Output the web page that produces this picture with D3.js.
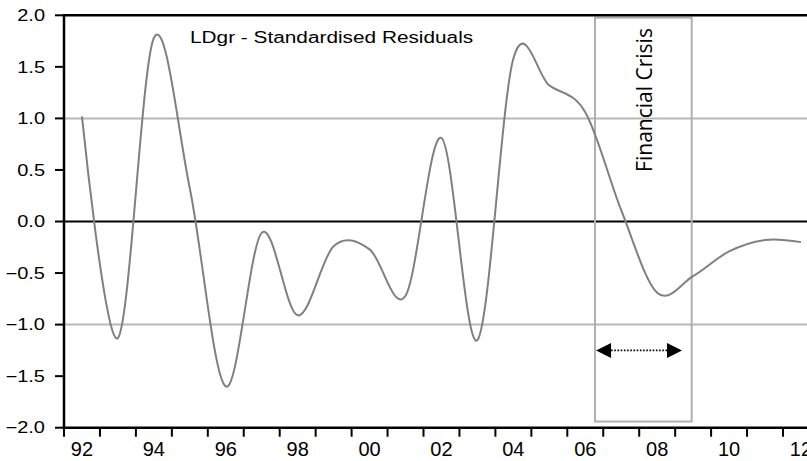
<!DOCTYPE html>
<html>
<head>
<meta charset="utf-8">
<script src="https://cdn.jsdelivr.net/npm/d3@7"></script>
<style>
  html, body { margin: 0; padding: 0; background: #fff; }
  svg { display: block; }
</style>
</head>
<body>
<svg id="chart" width="807" height="461"></svg>
<script>
// Annual standardised residuals, plotted at mid-year
const years = [1992, 1993, 1994, 1995, 1996, 1997, 1998, 1999, 2000, 2001, 2002,
               2003, 2004, 2005, 2006, 2007, 2008, 2009, 2010, 2011, 2012];
const residuals = [1.02, -1.13, 1.78, 0.32, -1.60, -0.11, -0.91, -0.24, -0.27, -0.72, 0.81,
                   -1.15, 1.58, 1.32, 1.06, 0.11, -0.69, -0.53, -0.29, -0.18, -0.20];
const yTicks = [-2.0, -1.5, -1.0, -0.5, 0.0, 0.5, 1.0, 1.5, 2.0];
const xLabelYears = [1992, 1994, 1996, 1998, 2000, 2002, 2004, 2006, 2008, 2010, 2012];
const bandLines = [-1, 1];
const crisisPeriod = [2006.77, 2009.46];
const crisisBox = [1.977, -1.94];
const crisisArrow = { from: 2006.8, to: 2009.19, level: -1.25 };
const title = "LDgr - Standardised Residuals";
const crisisLabel = "Financial Crisis";

const svg = d3.select("#chart");
const x = d3.scaleLinear().domain([1992, 2013]).range([64, 64 + 21 * 35.95]);
const y = d3.scaleLinear().domain([-2, 2]).range([427.7, 15.3]);
const x0 = x(1992), x1 = 807;

// ±1 reference lines
svg.selectAll("line.band").data(bandLines).join("line")
  .attr("class", "band")
  .attr("x1", x0).attr("x2", x1)
  .attr("y1", d => y(d)).attr("y2", d => y(d))
  .attr("stroke", "#b8b8b8").attr("stroke-width", 2);

// zero line
svg.append("line")
  .attr("x1", x0).attr("x2", x1).attr("y1", y(0)).attr("y2", y(0))
  .attr("stroke", "#000").attr("stroke-width", 2);

// crisis window
svg.append("rect")
  .attr("x", x(crisisPeriod[0])).attr("y", y(crisisBox[0]))
  .attr("width", x(crisisPeriod[1]) - x(crisisPeriod[0]))
  .attr("height", y(crisisBox[1]) - y(crisisBox[0]))
  .attr("fill", "none").attr("stroke", "#b0b0b0").attr("stroke-width", 2);

// residual curve
const line = d3.line()
  .x((d, i) => x(years[i] + 0.5))
  .y(d => y(d))
  .curve(d3.curveCatmullRom.alpha(0));
svg.append("path")
  .datum(residuals)
  .attr("d", line)
  .attr("fill", "none").attr("stroke", "#808080").attr("stroke-width", 2);

// double-headed dotted arrow
const ay = y(crisisArrow.level), ax1 = x(crisisArrow.from), ax2 = x(crisisArrow.to);
const head = 15, half = 7.5;
svg.append("line")
  .attr("x1", ax1 + head).attr("x2", ax2 - head).attr("y1", ay).attr("y2", ay)
  .attr("stroke", "#000").attr("stroke-width", 1.6).attr("stroke-dasharray", "1.6,1.6");
svg.append("path")
  .attr("d", `M${ax1},${ay}L${ax1 + head},${ay - half}L${ax1 + head},${ay + half}Z`)
  .attr("fill", "#000");
svg.append("path")
  .attr("d", `M${ax2},${ay}L${ax2 - head},${ay - half}L${ax2 - head},${ay + half}Z`)
  .attr("fill", "#000");

// axes frame
svg.append("line").attr("x1", x0).attr("x2", x0).attr("y1", y(2)).attr("y2", y(-2))
  .attr("stroke", "#000").attr("stroke-width", 2.5);
svg.append("line").attr("x1", x0 - 1.25).attr("x2", x1).attr("y1", y(2)).attr("y2", y(2))
  .attr("stroke", "#000").attr("stroke-width", 2.5);
svg.append("line").attr("x1", x0 - 1.25).attr("x2", x1).attr("y1", y(-2)).attr("y2", y(-2))
  .attr("stroke", "#000").attr("stroke-width", 2.5);

// y ticks and labels
svg.selectAll("line.ytick").data(yTicks).join("line")
  .attr("class", "ytick")
  .attr("x1", x0 - 9).attr("x2", x0).attr("y1", d => y(d)).attr("y2", d => y(d))
  .attr("stroke", "#000").attr("stroke-width", 2);
svg.selectAll("g.ylab").data(yTicks).join("g")
  .attr("class", "ylab")
  .attr("transform", d => `translate(45,${y(d) + 5.7}) scale(1,0.79)`)
  .append("text")
  .attr("text-anchor", "end")
  .attr("font-family", "Liberation Sans, Arial, sans-serif")
  .attr("font-size", 20)
  .attr("fill", "#000")
  .text(d => d3.format(".1f")(d));

// x ticks and labels
const xTickYears = d3.range(1992, 2014);
svg.selectAll("line.xtick").data(xTickYears).join("line")
  .attr("class", "xtick")
  .attr("x1", d => x(d)).attr("x2", d => x(d))
  .attr("y1", y(-2)).attr("y2", y(-2) + 9)
  .attr("stroke", "#000").attr("stroke-width", 2);
svg.selectAll("text.xlab").data(xLabelYears).join("text")
  .attr("class", "xlab")
  .attr("x", d => x(d + 0.5)).attr("y", 456)
  .attr("text-anchor", "middle")
  .attr("font-family", "Liberation Sans, Arial, sans-serif")
  .attr("font-size", 20)
  .attr("fill", "#000")
  .text(d => String(d % 100).padStart(2, "0"));

// title
svg.append("g")
  .attr("transform", "translate(190,43.3) scale(1,0.83)")
  .append("text")
  .attr("font-family", "Liberation Sans, Arial, sans-serif")
  .attr("font-size", 20.8)
  .attr("fill", "#000")
  .text(title);

// crisis label
svg.append("text")
  .attr("transform", `translate(651.7,100) rotate(-90)`)
  .attr("text-anchor", "middle")
  .attr("font-family", "Open Sans, sans-serif")
  .attr("font-size", 21)
  .attr("fill", "#000")
  .text(crisisLabel);
</script>
</body>
</html>
